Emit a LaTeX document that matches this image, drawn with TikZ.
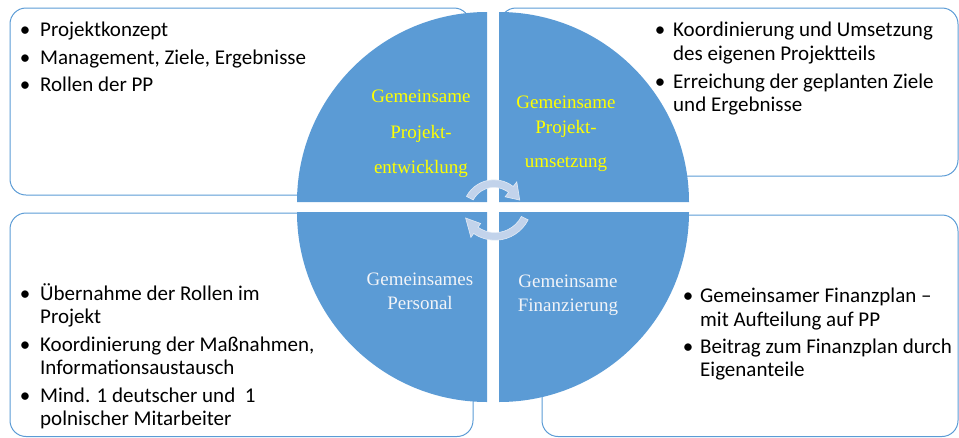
\documentclass[tikz,border=0pt]{standalone}
\usepackage{fontspec}
\setmainfont{Carlito}
\newfontfamily\serifq{Liberation Serif}
\definecolor{qblue}{RGB}{91,155,213}
\definecolor{qyellow}{RGB}{255,255,0}
\definecolor{qwhite}{RGB}{242,244,248}
\definecolor{arrowfill}{RGB}{194,211,235}
\definecolor{arrowline}{RGB}{228,236,246}
\begin{document}
\begin{tikzpicture}[x=1pt,y=-1pt,
  box/.style={draw=qblue, line width=1pt, rounded corners=16pt},
  quad/.style={fill=qblue},
  txt/.style={anchor=base west, inner sep=0pt, font=\fontsize{21}{25}\selectfont},
  bul/.style={anchor=base, inner sep=0pt, font=\fontsize{21}{25}\selectfont},
  qtxt/.style={anchor=base, inner sep=0pt, font=\serifq\fontsize{19}{23}\selectfont},
  cyc/.style={fill=arrowfill, draw=arrowline, line width=0.6pt}]
\useasboundingbox (0,0) rectangle (959,437);
% boxes
\draw[box] (10,8) rectangle (470,195);
\draw[box] (500,8) rectangle (958,176);
\draw[box] (10,213) rectangle (473,436.5);
\draw[box] (542,215) rectangle (958,436.5);
% quadrants
\fill[quad] (487,202) -- (297,202) arc[start angle=180,end angle=270,radius=190] -- cycle;
\fill[quad] (499,202) -- (499,12) arc[start angle=270,end angle=360,radius=190] -- cycle;
\fill[quad] (487,212) -- (297,212) arc[start angle=180,end angle=90,radius=190] -- cycle;
\fill[quad] (499,212) -- (689,212) arc[start angle=0,end angle=90,radius=190] -- cycle;
% cycle arrows
\coordinate (c1) at (494,211);
\coordinate (c2) at (495,203);
\filldraw[cyc] ([shift={(-152:31.2)}]c1) arc[start angle=-152,end angle=-52,radius=31.2]
  -- ([shift={(-52:37)}]c1) -- ([shift={(-23:28)}]c1) -- ([shift={(-52:18)}]c1)
  -- ([shift={(-52:23.6)}]c1) arc[start angle=-52,end angle=-152,radius=23.6] -- cycle;
\filldraw[cyc] ([shift={(27:37.2)}]c2) arc[start angle=27,end angle=125,radius=37.2]
  -- ([shift={(125:42)}]c2) -- ([shift={(153:33)}]c2) -- ([shift={(125:25)}]c2)
  -- ([shift={(125:29.6)}]c2) arc[start angle=125,end angle=27,radius=29.6] -- cycle;
% quadrant texts
\node[qtxt, text=qyellow] (q1a) at (421,102) {Gemeinsame};
\node[qtxt, text=qyellow] (q1b) at (421,138) {Projekt-};
\node[qtxt, text=qyellow] (q1c) at (421,173) {entwicklung};
\node[qtxt, text=qyellow] (q2a) at (566,108) {Gemeinsame};
\node[qtxt, text=qyellow] (q2b) at (566,133) {Projekt-};
\node[qtxt, text=qyellow] (q2c) at (566,167) {umsetzung};
\node[qtxt, text=qwhite] (q3a) at (420,285) {Gemeinsames};
\node[qtxt, text=qwhite] (q3b) at (420,309) {Personal};
\node[qtxt, text=qwhite] (q4a) at (568,287) {Gemeinsame};
\node[qtxt, text=qwhite] (q4b) at (568,311) {Finanzierung};
% top-left list
\node[bul] (b11) at (25,36) {\textbullet};
\node[txt] (t11) at (40,36) {Projektkonzept};
\node[bul] (b12) at (25,64) {\textbullet};
\node[txt] (t12) at (40,64) {Management, Ziele, Ergebnisse};
\node[bul] (b13) at (25,91) {\textbullet};
\node[txt] (t13) at (40,91) {Rollen der PP};
% top-right list
\node[bul] (b21) at (660,36) {\textbullet};
\node[txt] (t21) at (673,36) {Koordinierung und Umsetzung};
\node[txt] (t22) at (673,60) {des eigenen Projektteils};
\node[bul] (b22) at (660,88) {\textbullet};
\node[txt] (t23) at (673,88) {Erreichung der geplanten Ziele};
\node[txt] (t24) at (673,111) {und Ergebnisse};
% bottom-left list
\node[bul] (b31) at (25,300) {\textbullet};
\node[txt] (t31) at (40,300) {Übernahme der Rollen im};
\node[txt] (t32) at (40,323.5) {Projekt};
\node[bul] (b32) at (25,351) {\textbullet};
\node[txt] (t33) at (40,351) {Koordinierung der Maßnahmen,};
\node[txt] (t34) at (40,374.5) {Informationsaustausch};
\node[bul] (b33) at (25,402) {\textbullet};
\node[txt] (t35) at (40,402) {Mind. 1 deutscher und\ \ 1};
\node[txt] (t36) at (40,425.5) {polnischer Mitarbeiter};
% bottom-right list
\node[bul] (b41) at (688,302) {\textbullet};
\node[txt] (t41) at (700,302) {Gemeinsamer Finanzplan –};
\node[txt] (t42) at (700,326) {mit Aufteilung auf PP};
\node[bul] (b42) at (688,353) {\textbullet};
\node[txt] (t43) at (700,353) {Beitrag zum Finanzplan durch};
\node[txt] (t44) at (700,376) {Eigenanteile};
\end{tikzpicture}
\end{document}
